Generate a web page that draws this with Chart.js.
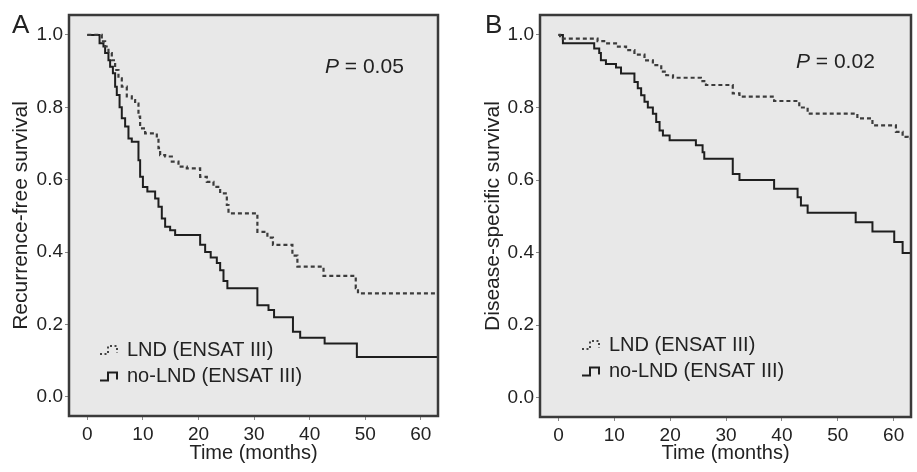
<!DOCTYPE html>
<html>
<head>
<meta charset="utf-8">
<script src="https://cdn.jsdelivr.net/npm/chart.js@4.4.1/dist/chart.umd.min.js"></script>
<style>
  body { margin: 0; background: #fff; }
  .wrap { position: relative; width: 917px; height: 472px; }
  .panel { position: absolute; top: 0; }
  #panelA { left: 0; }
  #panelB { left: 460px; }
</style>
</head>
<body>
<div class="wrap">
  <div class="panel" id="panelA"><canvas id="chartA" width="460" height="472"></canvas></div>
  <div class="panel" id="panelB"><canvas id="chartB" width="457" height="472"></canvas></div>
</div>
<script>
const xTicks = [0, 10, 20, 30, 40, 50, 60];
const yTicks = [0, 0.2, 0.4, 0.6, 0.8, 1.0];

// A: recurrence-free survival (time in months, survival after each drop)
const lndA_t = [0, 2.6, 3.2, 3.8, 4.4, 5.0, 5.6, 6.2, 7.1, 8.0, 8.6, 9.2, 9.5, 10.4, 12.5, 12.8, 13.1, 14.0, 15.2, 16.4, 17.9, 20.3, 21.5, 22.7, 23.9, 25.1, 25.4, 30.6, 32.4, 33.4, 36.9, 37.8, 42.5, 48.3, 48.7, 64];
const lndA_s = [1.0, 0.982, 0.968, 0.95, 0.93, 0.903, 0.88, 0.857, 0.83, 0.82, 0.81, 0.774, 0.742, 0.728, 0.71, 0.687, 0.668, 0.664, 0.65, 0.636, 0.631, 0.608, 0.594, 0.58, 0.562, 0.53, 0.507, 0.456, 0.44, 0.42, 0.39, 0.36, 0.334, 0.30, 0.286, 0.286];
const noLndA_t = [0, 2.2, 2.9, 3.2, 3.8, 4.1, 4.6, 5.0, 5.3, 5.8, 6.2, 6.8, 7.4, 8.0, 9.2, 9.5, 10.0, 10.8, 12.2, 12.8, 13.4, 14.0, 14.9, 15.8, 20.3, 21.2, 22.2, 23.3, 23.9, 24.5, 25.2, 30.6, 32.6, 33.6, 37.0, 38.3, 42.7, 48.5, 64];
const noLndA_s = [1.0, 0.977, 0.968, 0.95, 0.93, 0.912, 0.894, 0.857, 0.834, 0.80, 0.77, 0.747, 0.714, 0.705, 0.654, 0.608, 0.58, 0.567, 0.548, 0.525, 0.493, 0.47, 0.46, 0.447, 0.42, 0.40, 0.385, 0.37, 0.35, 0.32, 0.30, 0.253, 0.24, 0.22, 0.18, 0.163, 0.147, 0.11, 0.11];

// B: disease-specific survival
const lndB_t = [0, 0.3, 7.0, 8.5, 10.3, 12.1, 13.6, 15.4, 16.9, 18.4, 19.3, 20.5, 25.5, 26.4, 31.2, 32.4, 38.6, 43.1, 44.6, 53.5, 56.2, 60.4, 61.6, 62.5, 64];
const lndB_s = [1.0, 0.99, 0.983, 0.977, 0.968, 0.958, 0.946, 0.93, 0.917, 0.899, 0.889, 0.882, 0.873, 0.862, 0.839, 0.83, 0.818, 0.80, 0.783, 0.77, 0.751, 0.733, 0.719, 0.714, 0.714];
const noLndB_t = [0, 0.8, 6.4, 7.3, 7.6, 8.5, 10.3, 11.2, 13.6, 14.2, 14.8, 15.4, 16.0, 16.9, 17.5, 18.1, 18.7, 19.9, 24.6, 25.8, 26.1, 31.2, 32.4, 38.6, 42.8, 43.4, 44.6, 53.2, 56.2, 60.1, 61.6, 64];
const noLndB_s = [1.0, 0.977, 0.963, 0.95, 0.93, 0.92, 0.91, 0.894, 0.87, 0.853, 0.834, 0.816, 0.80, 0.783, 0.76, 0.737, 0.723, 0.71, 0.696, 0.677, 0.659, 0.617, 0.60, 0.576, 0.553, 0.53, 0.51, 0.484, 0.458, 0.429, 0.399, 0.399];

const legendLabels = ['LND (ENSAT III)', 'no-LND (ENSAT III)'];

const FONT = '"Liberation Sans", Arial, Helvetica, sans-serif';
const INK = '#222';

const pts = (t, s) => t.map((x, i) => ({x: x, y: s[i]}));

// grey plot box, frame, panel letter, P value and the little step legend
const kmDecor = {
  id: 'kmDecor',
  beforeDraw(chart) {
    const {ctx, chartArea: a} = chart;
    ctx.save();
    ctx.fillStyle = '#e8e8e8';
    ctx.fillRect(a.left, a.top, a.right - a.left, a.bottom - a.top);
    ctx.restore();
  },
  afterDraw(chart, args, o) {
    const {ctx, chartArea: a} = chart;
    ctx.save();
    ctx.strokeStyle = '#3a3a3a';
    ctx.lineWidth = 2.5;
    ctx.strokeRect(a.left, a.top, a.right - a.left, a.bottom - a.top);

    ctx.fillStyle = INK;
    ctx.textBaseline = 'alphabetic';
    ctx.font = '26px ' + FONT;
    ctx.fillText(o.letter, o.letterX, 33);

    ctx.font = 'italic 21px ' + FONT;
    ctx.fillText('P', o.pX, o.pY);
    const w = ctx.measureText('P').width;
    ctx.font = '21px ' + FONT;
    ctx.fillText(' = ' + o.pValue, o.pX + w, o.pY);

    ctx.font = '20px ' + FONT;
    ctx.textBaseline = 'middle';
    legendLabels.forEach((txt, i) => {
      const y = o.legY + i * 26.5;
      const x = o.legX;
      ctx.beginPath();
      ctx.setLineDash(i === 0 ? [2, 2.5] : []);
      ctx.lineWidth = 2;
      ctx.strokeStyle = i === 0 ? '#444' : '#1e1e1e';
      ctx.moveTo(x, y + 4);
      ctx.lineTo(x + 8, y + 4);
      ctx.lineTo(x + 8, y - 4);
      ctx.lineTo(x + 17, y - 4);
      ctx.lineTo(x + 17, y + 3);
      ctx.stroke();
      ctx.setLineDash([]);
      ctx.fillText(txt, o.legX + 27, y);
    });
    ctx.restore();
  }
};

function kmChart(id, yTitle, lnd, noLnd, cfg) {
  return new Chart(document.getElementById(id), {
    type: 'line',
    data: {
      datasets: [
        {data: lnd, stepped: 'before', borderColor: '#3c3c3c', borderWidth: 2.2, borderDash: [4, 3], pointRadius: 0},
        {data: noLnd, stepped: 'before', borderColor: '#1e1e1e', borderWidth: 2, pointRadius: 0}
      ]
    },
    options: {
      responsive: false,
      animation: false,
      layout: {padding: {top: 15, right: cfg.padRight, left: 0, bottom: 0}},
      plugins: {
        legend: {display: false},
        tooltip: {enabled: false},
        kmDecor: cfg.decor
      },
      scales: {
        x: {
          type: 'linear', min: -3.3, max: 63.1,
          afterBuildTicks: s => { s.ticks = xTicks.map(v => ({value: v})); },
          afterFit: s => { s.height = cfg.xHeight; },
          border: {display: false},
          grid: {drawOnChartArea: false, tickLength: 4, color: '#888'},
          ticks: {font: {family: FONT, size: 19}, color: INK, padding: 3, maxRotation: 0, autoSkip: false},
          title: {display: true, text: 'Time (months)', color: INK, font: {family: FONT, size: 20}, padding: {top: 0, bottom: 7}}
        },
        y: {
          min: -0.053, max: 1.055,
          afterBuildTicks: s => { s.ticks = yTicks.map(v => ({value: v})); },
          afterFit: s => { s.width = cfg.yWidth; },
          border: {display: false},
          grid: {drawOnChartArea: false, tickLength: 4, color: '#888'},
          ticks: {font: {family: FONT, size: 19}, color: INK, padding: 2, callback: v => v.toFixed(1)},
          title: {display: true, text: yTitle, color: INK, font: {family: FONT, size: 21}, padding: {top: cfg.yTitlePad, bottom: 0}}
        }
      }
    },
    plugins: [kmDecor]
  });
}

kmChart('chartA', 'Recurrence-free survival', pts(lndA_t, lndA_s), pts(noLndA_t, noLndA_s), {
  padRight: 22, xHeight: 56, yWidth: 69, yTitlePad: 9,
  decor: {letter: 'A', letterX: 12, pValue: '0.05', pX: 325, pY: 73, legX: 100, legY: 350}
});

kmChart('chartB', 'Disease-specific survival', pts(lndB_t, lndB_s), pts(noLndB_t, noLndB_s), {
  padRight: 6, xHeight: 55, yWidth: 80, yTitlePad: 21,
  decor: {letter: 'B', letterX: 25, pValue: '0.02', pX: 336, pY: 68, legX: 122, legY: 345}
});
</script>
</body>
</html>
